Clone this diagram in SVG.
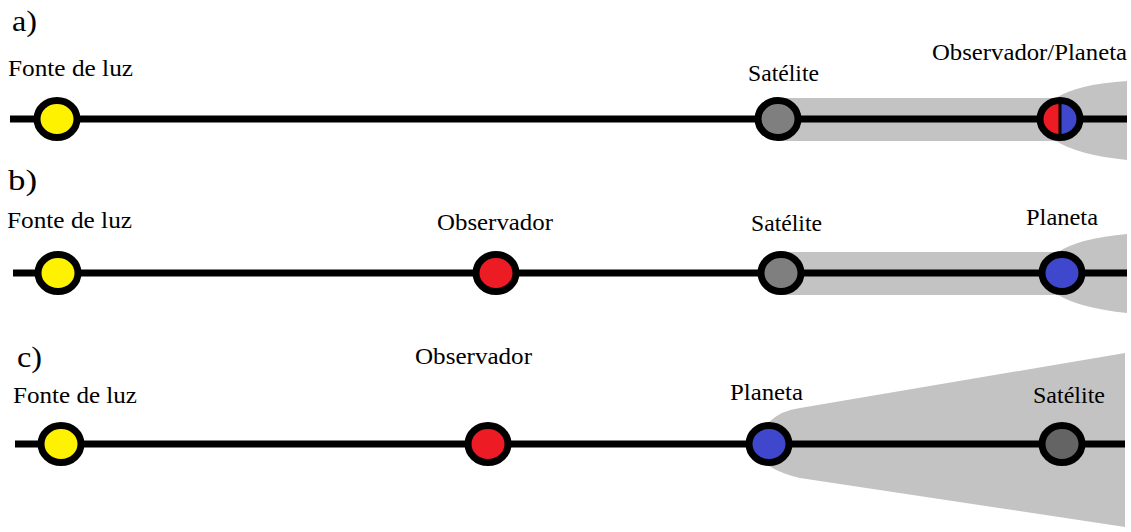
<svg xmlns="http://www.w3.org/2000/svg" width="1131" height="532" viewBox="0 0 1131 532">
  <style>
    .lbl { font-family: "Liberation Serif", "Times New Roman", serif; font-size: 23.5px; fill: #000; }
    .tag { font-family: "Liberation Serif", "Times New Roman", serif; font-size: 29px; fill: #000; }
    .axis { stroke: #000; stroke-width: 7; fill: none; }
    .body { stroke: #000; stroke-width: 7; }
    .shadow { fill: #c3c3c3; stroke: none; }
    .sun { fill: #fff200; }
    .obs { fill: #ed1c24; }
    .planet { fill: #3f48cc; }
    .sat { fill: #7f7f7f; }
    .sat-dark { fill: #646464; }
  </style>

  <!-- shadow regions -->
  <g id="shadows">
    <path class="shadow" d="M778,98 H1056 Q1078,84 1127,81 V160 Q1078,155 1056,141 H778 Z"/>
    <path class="shadow" d="M781,252 H1058 Q1080,238 1127,234 V313 Q1080,308 1058,295 H781 Z"/>
    <path class="shadow" d="M769,422 Q782,410 800,408 L1125,353 V527 L800,478 Q782,474 769,466 Z"/>
  </g>

  <!-- connectors: light axes -->
  <g id="connectors">
    <line class="axis" x1="10" y1="119" x2="1127" y2="119"/>
    <line class="axis" x1="13" y1="273" x2="1127" y2="273"/>
    <line class="axis" x1="15" y1="444" x2="1125" y2="444"/>
  </g>

  <!-- row a -->
  <text class="tag" x="12" y="31" textLength="25" lengthAdjust="spacingAndGlyphs">a)</text>
  <g id="a-fonte">
    <ellipse class="body sun" cx="57" cy="119" rx="20" ry="18.5"/>
    <text class="lbl" x="8" y="76" textLength="125" lengthAdjust="spacingAndGlyphs">Fonte de luz</text>
  </g>
  <g id="a-satelite">
    <ellipse class="body sat" cx="778" cy="119" rx="20" ry="18.5"/>
    <text class="lbl" x="748" y="81" textLength="71" lengthAdjust="spacingAndGlyphs">Satélite</text>
  </g>
  <g id="a-observador-planeta">
    <path class="obs" d="M1060,100.5 A20,18.5 0 0 0 1060,137.5 Z"/>
    <path class="planet" d="M1060,100.5 A20,18.5 0 0 1 1060,137.5 Z"/>
    <line x1="1060" y1="100" x2="1060" y2="138" stroke="#000" stroke-width="3"/>
    <ellipse cx="1060" cy="119" rx="20" ry="18.5" fill="none" stroke="#000" stroke-width="7"/>
    <text class="lbl" x="932" y="60" textLength="195" lengthAdjust="spacingAndGlyphs">Observador/Planeta</text>
  </g>

  <!-- row b -->
  <text class="tag" x="8" y="190" textLength="29" lengthAdjust="spacingAndGlyphs">b)</text>
  <g id="b-fonte">
    <ellipse class="body sun" cx="58" cy="273" rx="20" ry="18.5"/>
    <text class="lbl" x="7" y="228" textLength="125" lengthAdjust="spacingAndGlyphs">Fonte de luz</text>
  </g>
  <g id="b-observador">
    <ellipse class="body obs" cx="496" cy="273" rx="20" ry="18.5"/>
    <text class="lbl" x="437" y="230" textLength="116" lengthAdjust="spacingAndGlyphs">Observador</text>
  </g>
  <g id="b-satelite">
    <ellipse class="body sat" cx="781" cy="273" rx="20" ry="18.5"/>
    <text class="lbl" x="751" y="231" textLength="71" lengthAdjust="spacingAndGlyphs">Satélite</text>
  </g>
  <g id="b-planeta">
    <ellipse class="body planet" cx="1062" cy="273" rx="20" ry="18.5"/>
    <text class="lbl" x="1026" y="225" textLength="72" lengthAdjust="spacingAndGlyphs">Planeta</text>
  </g>

  <!-- row c -->
  <text class="tag" x="17" y="367" textLength="25" lengthAdjust="spacingAndGlyphs">c)</text>
  <g id="c-fonte">
    <ellipse class="body sun" cx="61" cy="444" rx="20" ry="18.5"/>
    <text class="lbl" x="13" y="403" textLength="124" lengthAdjust="spacingAndGlyphs">Fonte de luz</text>
  </g>
  <g id="c-observador">
    <ellipse class="body obs" cx="488" cy="444" rx="20" ry="18.5"/>
    <text class="lbl" x="415" y="364" textLength="117" lengthAdjust="spacingAndGlyphs">Observador</text>
  </g>
  <g id="c-planeta">
    <ellipse class="body planet" cx="769" cy="444" rx="20" ry="18.5"/>
    <text class="lbl" x="730" y="400" textLength="73" lengthAdjust="spacingAndGlyphs">Planeta</text>
  </g>
  <g id="c-satelite">
    <ellipse class="body sat-dark" cx="1062" cy="444" rx="20" ry="18.5"/>
    <text class="lbl" x="1033" y="403" textLength="72" lengthAdjust="spacingAndGlyphs">Satélite</text>
  </g>
</svg>
